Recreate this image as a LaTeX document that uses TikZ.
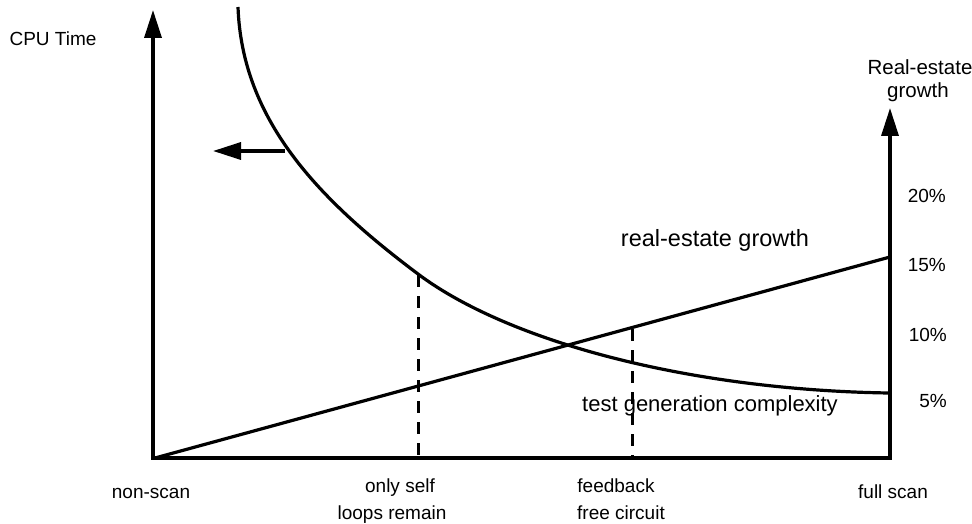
\documentclass[tikz,border=0pt]{standalone}
\usepackage{fontspec}
\setmainfont{Liberation Sans}
\usetikzlibrary{arrows.meta}
\begin{document}
\begin{tikzpicture}[x=1pt,y=-1pt,
  axis/.style={line width=3.4pt},
  tipped/.style={-{Triangle[length=28pt,width=17pt]}},
  curve/.style={line width=3.2pt, line join=round},
  guide/.style={line width=3pt, dash pattern=on 12pt off 9pt},
  lbl/.style={inner sep=0pt, anchor=base, font=\fontsize{19}{19}\selectfont},
  pct/.style={inner sep=0pt, anchor=base east, font=\fontsize{19}{19}\selectfont}]
\useasboundingbox (0,0) rectangle (972,524);

% axes
\coordinate (o) at (153,458);
\coordinate (ytip) at (153,10);
\coordinate (r0) at (890,458);
\coordinate (rtip) at (890,108);
\draw[axis,tipped] (o) -- (ytip);
\draw[axis,tipped] (r0) -- (rtip);
\draw[axis,line cap=rect] (o) -- (r0);

% real-estate growth line
\coordinate (re0) at (155,458);
\coordinate (re1) at (890,257);
\draw[curve] (re0) -- (re1);

% test generation complexity curve
\coordinate (c0) at (238,7);
\coordinate (c1) at (418,274);
\coordinate (c2) at (889,393);
\draw[curve] (c0) .. controls (242,120) and (318,199) .. (c1)
                  .. controls (508,341.5) and (689,390) .. (c2);

% direction arrow
\coordinate (a0) at (285,151);
\coordinate (a1) at (213,151);
\draw[axis,tipped] (a0) -- (a1);

% guide lines
\coordinate (d1t) at (418,275);
\coordinate (d1b) at (418,458);
\coordinate (d2t) at (632,329);
\coordinate (d2b) at (632,458);
\draw[guide] (d1t) -- (d1b);
\draw[guide] (d2t) -- (d2b);

% labels
\node[lbl] (cpu) at (53,46) {CPU Time};
\node[lbl,font=\fontsize{20.5}{20.5}\selectfont] (rh1) at (920,75) {Real-estate};
\node[lbl,font=\fontsize{20.5}{20.5}\selectfont] (rh2) at (918,98) {growth};
\node[pct] (p20) at (946,202) {20\%};
\node[pct] (p15) at (946,271) {15\%};
\node[pct] (p10) at (947,341) {10\%};
\node[pct] (p5) at (947,407) {5\%};
\node[lbl,font=\fontsize{23.5}{23.5}\selectfont] (reg) at (715,246) {real-estate growth};
\node[lbl,font=\fontsize{22}{22}\selectfont] (tgc) at (710,411) {test generation complexity};
\node[lbl] (ns) at (151,498) {non-scan};
\node[lbl] (os1) at (400,492) {only self};
\node[lbl] (os2) at (392,519) {loops remain};
\node[lbl] (fb1) at (616,492) {feedback};
\node[lbl] (fb2) at (621,519) {free circuit};
\node[lbl] (fs) at (893,498) {full scan};
\end{tikzpicture}
\end{document}
